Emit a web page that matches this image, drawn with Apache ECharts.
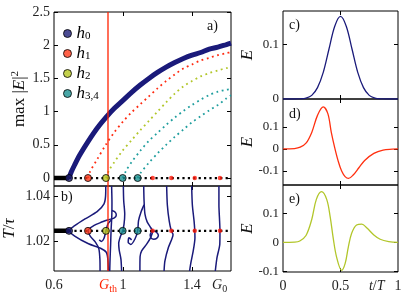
<!DOCTYPE html>
<html><head><meta charset="utf-8">
<script src="https://cdn.jsdelivr.net/npm/echarts@6/dist/echarts.min.js"></script>
<style>html,body{margin:0;padding:0;background:#fff}#c{width:415px;height:294px}</style>
</head><body><div id="c"></div>
<script>
// ---------- data ----------
const gMin = 0.6, gMax = 1.626;
const gTh = 0.913, g0 = 1.56;
const periodBase = 1.0245;
const hopfG = [0.687, 0.797, 0.901, 0.998, 1.085];
const extraG = [1.172, 1.28, 1.416, 1.562];
const legendNames = ['h0', 'h1', 'h2', 'h34'];
const legendSubs = ['0', '1', '2', '3,4'];
const markerColors = ['#1e1e78', '#ff3a1a', '#b4c41e', '#1a9090'];
const curveColors = ['#1a1a7a', '#ff2a10', '#b2c62a', '#1f9e9e', '#1f9e9e'];

const h0Curve = [[0.687,0],[0.70,0.09],[0.72,0.2],[0.75,0.35],[0.80,0.56],[0.85,0.75],[0.90,0.91],[0.95,1.05],[1.0,1.17],[1.05,1.29],[1.1,1.40],[1.15,1.50],[1.2,1.59],[1.25,1.67],[1.3,1.74],[1.35,1.80],[1.4,1.85],[1.45,1.89],[1.5,1.94],[1.55,1.97],[1.6,2.01],[1.626,2.03]];
const h1Curve = [[0.797,0],[0.81,0.1],[0.85,0.28],[0.9,0.5],[0.95,0.69],[1.0,0.85],[1.05,0.99],[1.1,1.11],[1.15,1.23],[1.2,1.35],[1.25,1.46],[1.3,1.56],[1.35,1.65],[1.4,1.71],[1.45,1.77],[1.5,1.81],[1.55,1.85],[1.6,1.88],[1.626,1.895]];
const h2Curve = [[0.901,0],[0.92,0.12],[0.95,0.24],[1.0,0.42],[1.05,0.57],[1.1,0.72],[1.15,0.86],[1.2,1.0],[1.25,1.14],[1.3,1.27],[1.35,1.38],[1.4,1.46],[1.45,1.53],[1.5,1.58],[1.55,1.62],[1.6,1.655],[1.626,1.67]];
const h3Curve = [[0.998,0],[1.02,0.12],[1.05,0.24],[1.1,0.41],[1.15,0.56],[1.2,0.68],[1.25,0.8],[1.3,0.91],[1.35,1.01],[1.4,1.1],[1.45,1.18],[1.5,1.25],[1.55,1.3],[1.6,1.33],[1.626,1.34]];
const h4Curve = [[1.085,0],[1.1,0.07],[1.15,0.23],[1.2,0.37],[1.25,0.5],[1.3,0.62],[1.35,0.73],[1.4,0.84],[1.45,0.93],[1.5,1.02],[1.55,1.1],[1.6,1.2],[1.626,1.245]];

const contourOuter = [[0.9,1.0444],[0.899,1.040],[0.89,1.0365],[0.85,1.033],[0.78,1.0298],[0.72,1.0268],[0.687,1.0247],[0.72,1.0222],[0.80,1.0188],[0.87,1.0168],[0.903,1.015],[0.912,1.012],[0.915,1.0067]];
const contourA = [[0.934,1.0444],[0.936,1.037],[0.935,1.031],[0.931,1.025],[0.928,1.018],[0.925,1.012],[0.923,1.0067]];
const contourInner = [[0.936,1.0335],[0.955,1.0328],[0.961,1.0315],[0.95,1.0303],[0.91,1.0293],[0.87,1.0282],[0.83,1.0268],[0.797,1.0247],[0.81,1.0222],[0.84,1.0195],[0.86,1.0165],[0.866,1.012],[0.867,1.0067]];
const contourHook = [[0.862,1.0205],[0.875,1.0198],[0.89,1.0212],[0.901,1.0245],[0.912,1.0275],[0.93,1.0292]];
const contourB = [[1.002,1.0444],[1.004,1.038],[1.01,1.032],[1.006,1.0275],[0.998,1.0245],[0.985,1.022],[0.975,1.019],[0.978,1.016],[0.988,1.012],[0.992,1.0067]];
const contourD = [[1.122,1.036],[1.105,1.033],[1.09,1.029],[1.085,1.0245],[1.07,1.021],[1.045,1.0185],[1.03,1.0195],[1.035,1.0215],[1.05,1.0205]];
const contourL1 = [[1.12,1.0444],[1.122,1.038],[1.127,1.032],[1.14,1.0285],[1.16,1.026],[1.172,1.0245],[1.16,1.0215],[1.137,1.0186],[1.108,1.0156],[1.099,1.013],[1.098,1.0067]];
const contourLoop = [[1.157,1.0228],[1.165,1.0240],[1.18,1.0244],[1.198,1.0236],[1.205,1.0224],[1.195,1.0212],[1.178,1.0208],[1.162,1.0214],[1.157,1.0228]];
const contourL2 = [[1.253,1.0444],[1.257,1.036],[1.268,1.0288],[1.28,1.0245],[1.29,1.0228],[1.282,1.0207],[1.263,1.0171],[1.243,1.0112],[1.238,1.0067]];
const contourL3 = [[1.398,1.0444],[1.402,1.036],[1.412,1.0288],[1.416,1.0245],[1.417,1.0215],[1.407,1.0156],[1.392,1.0098],[1.386,1.0067]];
const contourL4 = [[1.556,1.0444],[1.556,1.036],[1.56,1.0288],[1.562,1.0245],[1.561,1.0186],[1.545,1.0127],[1.535,1.0067]];
const contours = [contourOuter, contourA, contourInner, contourHook, contourB, contourD, contourL1, contourLoop, contourL2, contourL3, contourL4];

const pulseC = [[0,0],[0.1,0],[0.15,0.0003],[0.2,0.0017],[0.25,0.0067],[0.3,0.021],[0.35,0.049],[0.4,0.092],[0.45,0.134],[0.5,0.152],[0.55,0.134],[0.6,0.092],[0.65,0.049],[0.7,0.021],[0.75,0.0067],[0.8,0.0017],[0.85,0.0003],[0.9,0],[1,0]];
const pulseD = [[0,0],[0.1,0.002],[0.15,0.008],[0.2,0.026],[0.25,0.075],[0.3,0.152],[0.35,0.19],[0.39,0.16],[0.42,0.075],[0.45,0.005],[0.48,-0.055],[0.51,-0.1],[0.54,-0.125],[0.57,-0.133],[0.61,-0.118],[0.66,-0.085],[0.71,-0.052],[0.79,-0.02],[0.87,-0.005],[0.95,-0.001],[1,0]];
const pulseE = [[0,0],[0.1,0.001],[0.146,0.005],[0.2,0.024],[0.25,0.08],[0.29,0.15],[0.335,0.177],[0.38,0.15],[0.41,0.09],[0.437,0.014],[0.466,-0.051],[0.51,-0.097],[0.54,-0.074],[0.568,-0.016],[0.597,0.032],[0.64,0.061],[0.685,0.064],[0.73,0.05],[0.79,0.026],[0.845,0.011],[0.92,0.003],[1,0]];

const yTicksA = [0, 0.5, 1, 1.5, 2, 2.5];
const yTicksB = [1.02, 1.04];
const xTicksLeft = [1, 1.4];
const xLabelsB = [0.6, gTh, 1, 1.4, g0];
const xLabelsE = [0, 0.5, 0.815, 1];

// ---------- layout ----------
const FONT = 'Liberation Serif';
const grids = [
  {left:54, top:12, width:177, height:174},
  {left:54, top:186, width:177, height:86},
  {left:283, top:11, width:115, height:88},
  {left:283, top:99, width:115, height:86},
  {left:283, top:185, width:115, height:87}
].map(g => Object.assign(g, {show:true, borderColor:'#000', borderWidth:1, backgroundColor:'transparent'}));

const xR = [[gMin,gMax],[gMin,gMax],[0,1],[0,1],[0,1]];
const yR = [[-0.12,2.5],[1.0067,1.0444],[0,0.162],[-0.163,0.226],[-0.103,0.2]];
const xTicks = [xTicksLeft, xTicksLeft, [0.5],[0.5],[0.5]];
const yTicks = [yTicksA, yTicksB, [0.1], [-0.1,0,0.1], [-0.1,0,0.1]];
const yLabels = [yTicksA, yTicksB, [0,0.1], [-0.1,0,0.1], [-0.1,0,0.1]];
const xLabels = [null, xLabelsB, null, null, xLabelsE];
const yNames = ['max |{i|E}|{p|2}', '{i|T}/{i|τ}', '{i|E}', '{i|E}', '{i|E}'];
const yNameGaps = [24, 34, 25, 25, 25];

const rich = {
  n:{fontFamily:FONT, fontSize:14, lineHeight:18, color:'#222'},
  i:{fontFamily:FONT, fontSize:14, lineHeight:18, fontStyle:'italic', color:'#222'},
  s:{fontFamily:FONT, fontSize:10, lineHeight:8, verticalAlign:'bottom', color:'#222'},
  r:{fontFamily:FONT, fontSize:14, lineHeight:18, fontStyle:'italic', color:'#ff2200'},
  rs:{fontFamily:FONT, fontSize:10, lineHeight:8, verticalAlign:'bottom', color:'#ff2200'}
};
function xFmt(v){
  if (Math.abs(v-gTh) < 1e-6) return '{r|G}{rs|th}';
  if (Math.abs(v-g0) < 1e-6) return '{i|G}{s|0}';
  if (Math.abs(v-0.815) < 1e-6) return '{i|t}{n|/}{i|T}';
  return '{n|' + v + '}';
}
const tick = vals => ({show:true, inside:true, length:4, customValues:vals, lineStyle:{color:'#000', width:1}});
const noLine = {show:false, onZero:false};

const xAxis = [], yAxis = [];
for (let i = 0; i < 5; i++) {
  const fs = i < 2 ? 14 : 13;
  xAxis.push({type:'value', gridIndex:i, position:'bottom', min:xR[i][0], max:xR[i][1],
    axisLine:noLine, splitLine:{show:false}, axisTick:tick(xTicks[i]),
    axisLabel: xLabels[i] ? {show:true, customValues:xLabels[i], margin:5, formatter:xFmt, rich:rich} : {show:false}});
  xAxis.push({type:'value', gridIndex:i, position:'top', min:xR[i][0], max:xR[i][1],
    axisLine:noLine, splitLine:{show:false}, axisTick:tick(xTicks[i]), axisLabel:{show:false}});
  yAxis.push({type:'value', gridIndex:i, position:'left', min:yR[i][0], max:yR[i][1],
    axisLine:noLine, splitLine:{show:false}, axisTick:tick(yTicks[i]),
    axisLabel:{show:true, customValues:yLabels[i], margin:4, fontFamily:FONT, fontSize:fs, color:'#222', formatter: v => String(v)},
    name:yNames[i], nameLocation:'middle', nameRotate:90, nameGap:yNameGaps[i], nameMoveOverlap:false,
    nameTextStyle:{fontFamily:FONT, fontSize:17, color:'#111',
      rich:{i:{fontFamily:FONT, fontSize:17, fontStyle:'italic', lineHeight:20, color:'#111'},
            p:{fontFamily:FONT, fontSize:11, lineHeight:8, verticalAlign:'top', color:'#111'}}}});
  yAxis.push({type:'value', gridIndex:i, position:'right', min:yR[i][0], max:yR[i][1],
    axisLine:noLine, splitLine:{show:false}, axisTick:tick(yTicks[i]), axisLabel:{show:false}});
}

const series = [];
const L = (gi, data, style, extra) => Object.assign({type:'line', xAxisIndex:2*gi, yAxisIndex:2*gi, data:data,
  showSymbol:false, symbol:'none', silent:true, lineStyle:style, animation:false}, extra || {});

[[0, 0, yR[0]], [1, periodBase, yR[1]]].forEach(([gi, base, yr]) => {
  series.push(L(gi, [[gTh, yr[0]], [gTh, yr[1]]], {color:'#ff2200', width:1.3}, {z:5}));
  series.push(L(gi, [[gMin, base], [hopfG[0], base]], {color:'#000', width:4.5}, {z:4}));
  series.push(L(gi, [[hopfG[0], base], [gMax, base]], {color:'#000', width:2.2, type:[2.2,3.2]}, {z:4}));
});

series.push(L(0, h0Curve, {color:curveColors[0], width:5}, {smooth:0.3, z:3}));
[h1Curve, h2Curve, h3Curve, h4Curve].forEach((c, k) => {
  series.push(L(0, c, {color:curveColors[k+1], width:1.8, type:[1.8,3.6]}, {smooth:0.3, z:3}));
});

contours.forEach(c => series.push(L(1, c, {color:'#1a1a7a', width:1.5}, {smooth:0.25, z:3})));

const markerGroups = [[hopfG[0]], [hopfG[1]], [hopfG[2]], [hopfG[3], hopfG[4]]];
[[0, 0], [1, periodBase]].forEach(([gi, base]) => {
  markerGroups.forEach((grp, k) => {
    series.push({type:'scatter', name:legendNames[k], xAxisIndex:2*gi, yAxisIndex:2*gi,
      data:grp.map(g => [g, base]), symbol:'circle', symbolSize:7, z:8, silent:true, animation:false,
      itemStyle:{color:markerColors[k], borderColor:'#000', borderWidth:1}});
  });
  series.push({type:'scatter', name:'extra', xAxisIndex:2*gi, yAxisIndex:2*gi,
    data:extraG.map(g => [g, base]), symbol:'circle', symbolSize:4.5, z:8, silent:true, animation:false,
    itemStyle:{color:'#ff1a0a'}});
});

series.push(L(2, pulseC, {color:'#1a1a7a', width:1.3}, {smooth:0.35}));
series.push(L(3, pulseD, {color:'#ff3010', width:1.3}, {smooth:0.35}));
series.push(L(4, pulseE, {color:'#b2c62a', width:1.3}, {smooth:0.35}));

const panelText = (t, x, y) => ({type:'text', x:x, y:y, style:{text:t, font:'14px "Liberation Serif"', fill:'#111'}});

const option = {
  animation:false,
  grid:grids, xAxis:xAxis, yAxis:yAxis, series:series,
  legend:{orient:'vertical', left:58, top:20, itemWidth:8, itemHeight:8, itemGap:3, selectedMode:false,
    data:legendNames.map((n,k) => ({name:n, icon:'circle', itemStyle:{color:markerColors[k], borderColor:'#000', borderWidth:1}})),
    formatter: n => '{h|h}{s|' + legendSubs[legendNames.indexOf(n)] + '}',
    textStyle:{rich:{h:{fontFamily:FONT, fontStyle:'italic', fontSize:17, lineHeight:16, color:'#000'},
                     s:{fontFamily:FONT, fontSize:11, lineHeight:8, verticalAlign:'bottom', color:'#000'}}}},
  graphic:[panelText('a)', 207, 19), panelText('b)', 61, 190), panelText('c)', 289, 18), panelText('d)', 289, 107), panelText('e)', 289, 192)]
};
const chart = echarts.init(document.getElementById('c'), null, {renderer:'canvas'});
chart.setOption(option);
</script></body></html>
